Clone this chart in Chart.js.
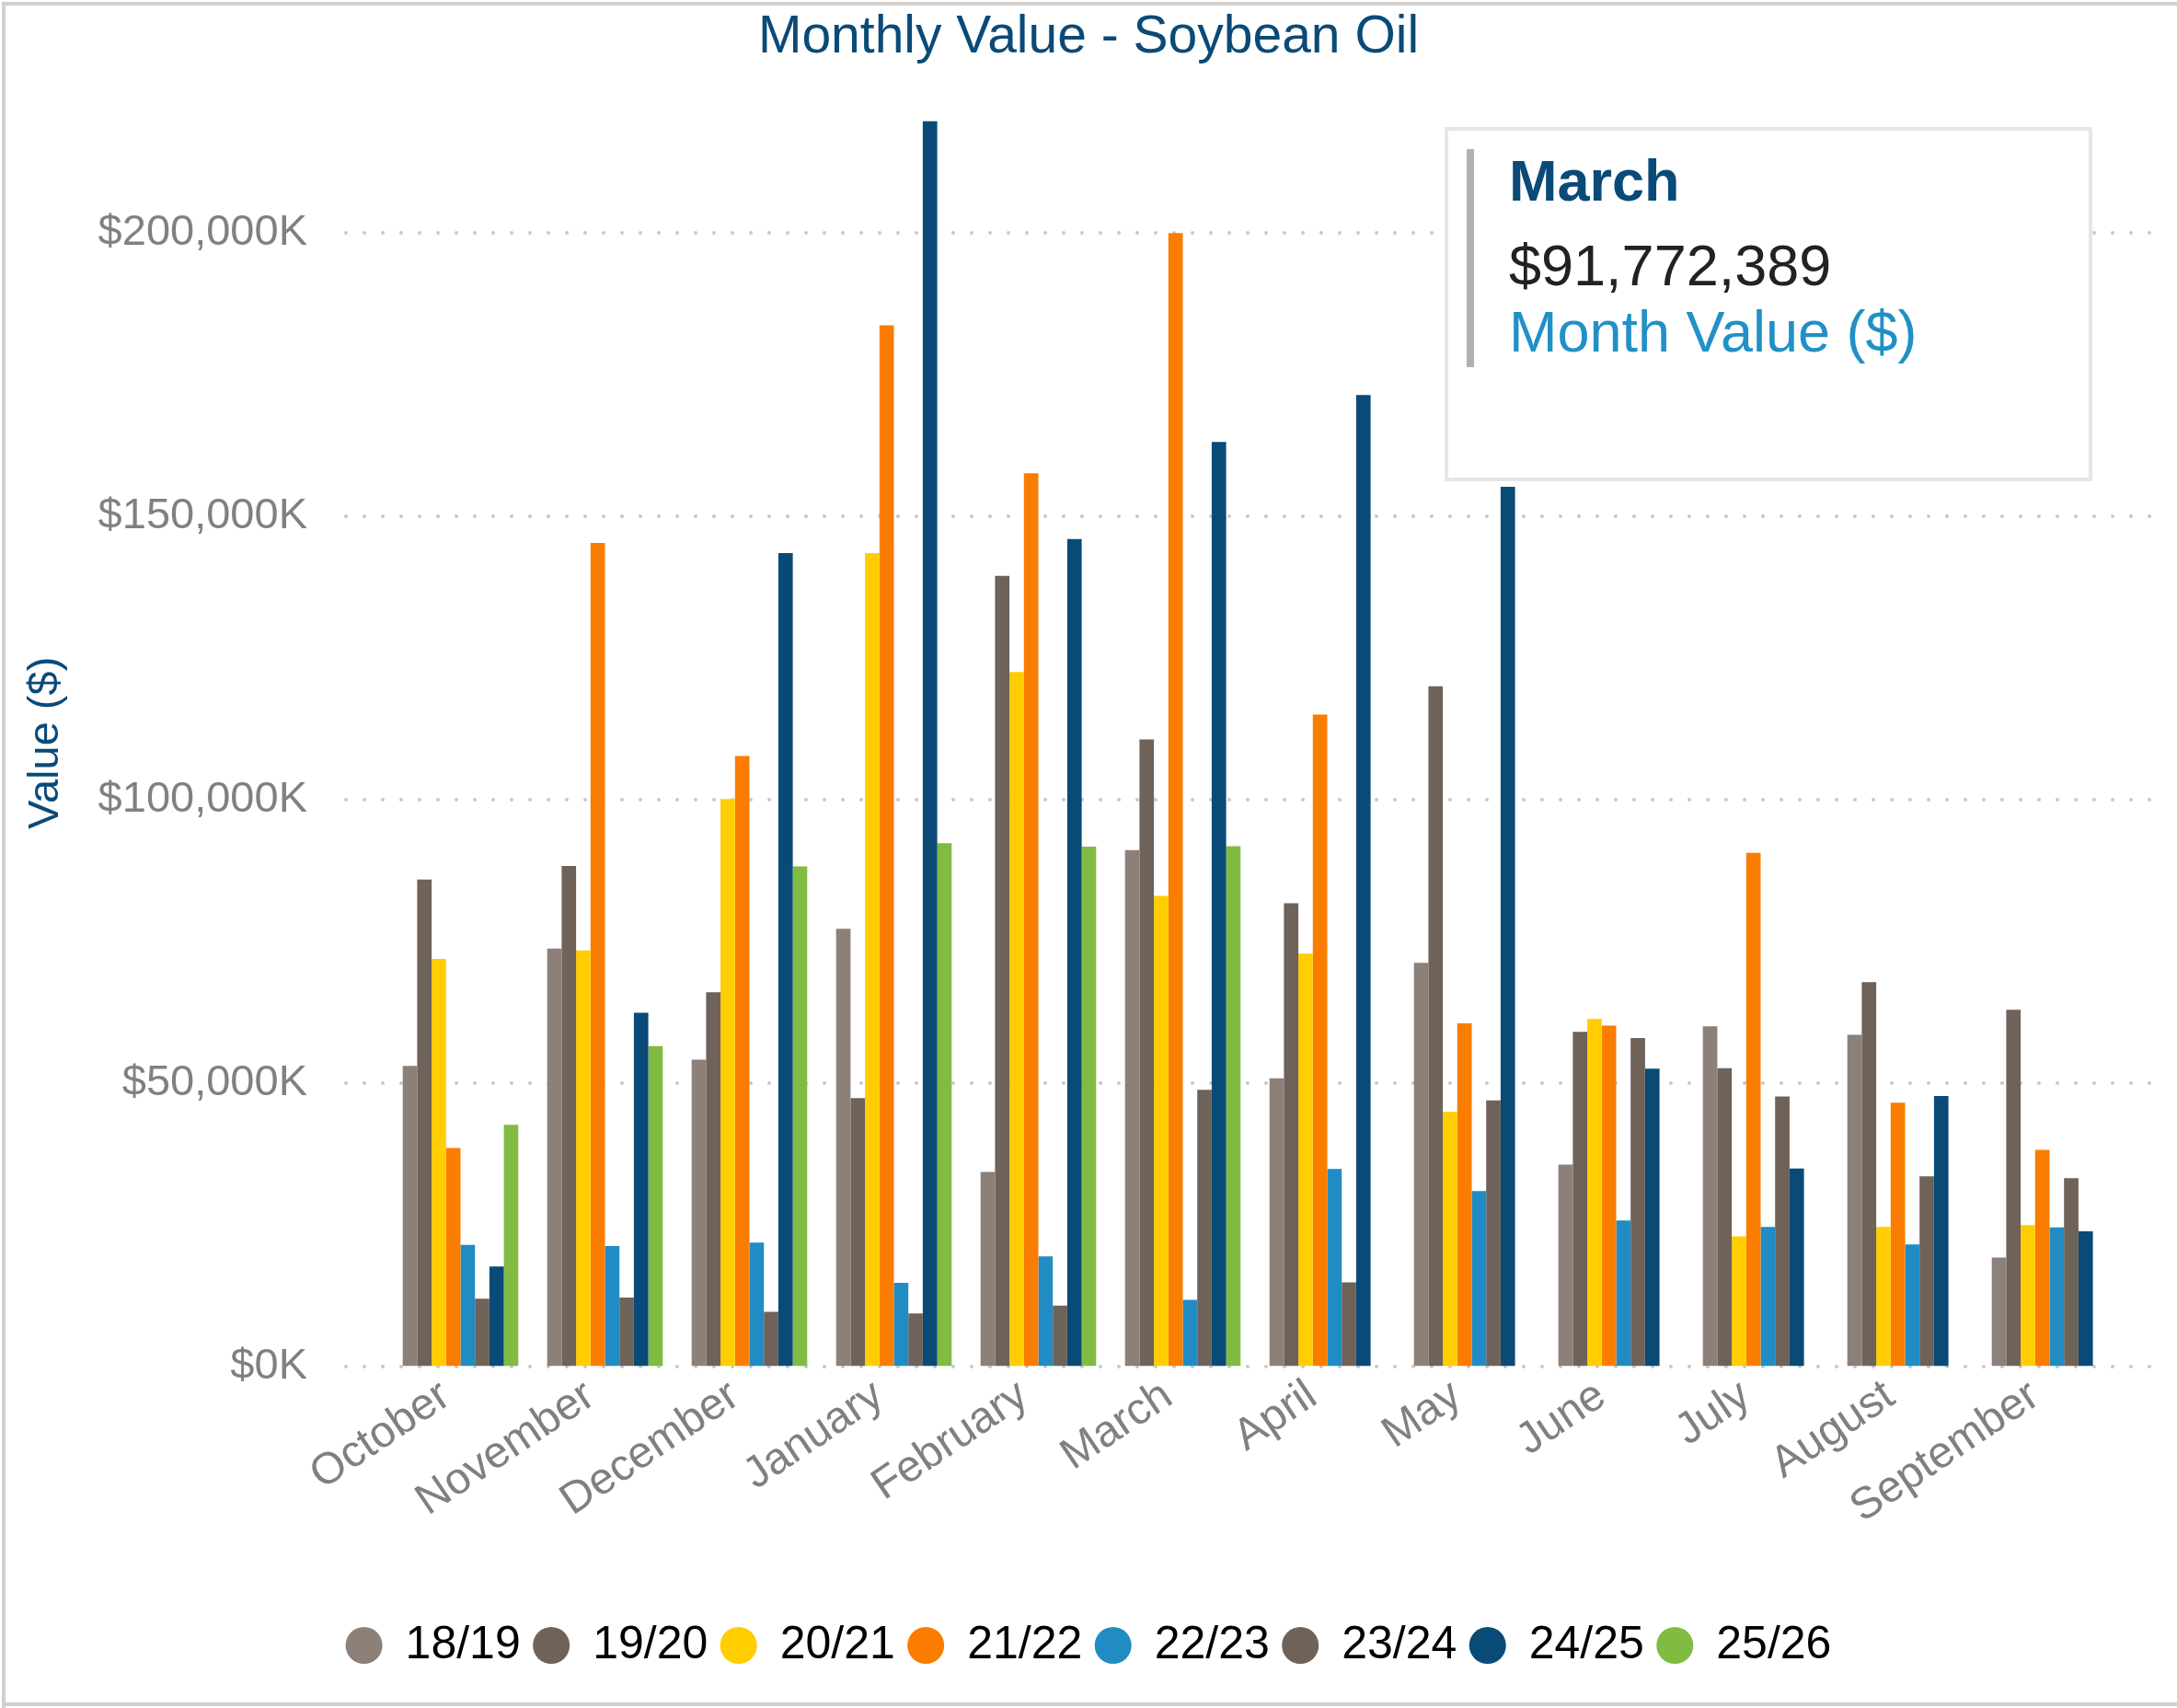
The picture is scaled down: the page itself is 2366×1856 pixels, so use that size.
<!DOCTYPE html>
<html lang="en">
<head>
    <meta charset="UTF-8">
    <title>Monthly Value - Soybean Oil</title>
    <script src="https://cdn.jsdelivr.net/npm/chart.js"></script>
    <style>
        body { margin: 0; background: #fff; }
        #wrap { position: relative; width: 2366px; height: 1856px; }
        #chart { display: block; }
        #tip {
            position: absolute; left: 1570px; top: 138px; width: 704px; height: 385px;
            box-sizing: border-box; border: 4px solid #e6e6e6; background: #fff;
            font-family: "Liberation Sans", Arial, sans-serif; opacity: 0;
        }
        #tip .bar { position: absolute; left: 20px; top: 20px; width: 8px; height: 237px; background: #b4afab; }
        #tip .line { position: absolute; left: 66px; font-size: 63px; line-height: 63px; white-space: nowrap; }
        #tip .title { top: 23px; font-weight: bold; color: #0a4a78; }
        #tip .value { top: 115px; color: #222; }
        #tip .series { top: 187px; color: #2190c6; }
    </style>
</head>
<body>
    <div id="wrap">
        <canvas id="chart" width="2366" height="1856"></canvas>
        <div id="tip"></div>
    </div>
    <script>
        // values in $ thousands
        const months = ['October', 'November', 'December', 'January', 'February', 'March',
                        'April', 'May', 'June', 'July', 'August', 'September'];
        const seasons = ['18/19', '19/20', '20/21', '21/22', '22/23', '23/24', '24/25', '25/26'];
        const colors = ['#8c8079', '#6e6259', '#ffcd00', '#fa7d00', '#218cc3', '#6e6259', '#0a4a77', '#80bc42'];

        const v1819 = [53000, 73700, 54100, 77200, 34300, 91100, 50800, 71200, 35600, 60000, 58500, 19200];
        const v1920 = [85900, 88300, 66000, 47300, 139500, 110600, 81700, 120000, 59000, 52600, 67800, 62900];
        const v2021 = [71900, 73400, 100100, 143500, 122500, 83000, 72800, 44900, 61300, 22900, 24600, 24900];
        const v2122 = [38500, 145300, 107700, 183700, 157600, 200000, 115000, 60500, 60100, 90600, 46500, 38200];
        const v2223 = [21400, 21200, 21800, 14700, 19400, 11700, 34800, 30900, 25700, 24600, 21500, 24500];
        const v2324 = [11900, 12100, 9600, 9300, 10700, 48800, 14800, 46900, 57900, 47600, 33500, 33200];
        const v2425 = [17600, 62400, 143500, 219700, 146000, 163100, 171400, 155200, 52500, 34900, 47700, 23800];
        const v2526 = [42600, 56500, 88200, 92300, 91700, 91772.389, null, null, null, null, null, null];
        const seriesValues = [v1819, v1920, v2021, v2122, v2223, v2324, v2425, v2526];

        const yTicks = [0, 50000, 100000, 150000, 200000];
        const yMax = 220000;

        const FONT = '"Liberation Sans", Arial, sans-serif';
        const NAVY = '#0a4a78';

        // dotted horizontal grid, a bit wider than the bar area like the original
        const dottedGrid = {
            id: 'dottedGrid',
            beforeDatasetsDraw(chart) {
                const { ctx, chartArea, scales: { y } } = chart;
                ctx.save();
                ctx.strokeStyle = '#c8c8c8';
                ctx.lineWidth = 4;
                ctx.lineCap = 'round';
                ctx.setLineDash([0, 20]);
                y.ticks.forEach(t => {
                    const py = Math.round(y.getPixelForValue(t.value));
                    ctx.beginPath();
                    ctx.moveTo(chartArea.left - 46, py);
                    ctx.lineTo(chartArea.right + 32, py);
                    ctx.stroke();
                });
                ctx.restore();
            }
        };

        // thin grey frame on the top, left and bottom edges
        const frame = {
            id: 'frame',
            afterDraw(chart) {
                const { ctx, width, height } = chart;
                ctx.save();
                ctx.fillStyle = '#d0d0d0';
                ctx.fillRect(2, 2, width, 4);
                ctx.fillRect(2, 2, 4, height);
                ctx.fillRect(2, height - 6, width, 4);
                ctx.restore();
            }
        };

        function externalTip(context) {
            const tip = context.tooltip;
            const el = document.getElementById('tip');
            if (tip.opacity === 0 || !tip.body) { el.style.opacity = 0; return; }
            const body = tip.body[0];
            el.innerHTML =
                '<div class="bar"></div>' +
                '<div class="line title">' + tip.title[0] + '</div>' +
                '<div class="line value">' + body.lines[0] + '</div>' +
                '<div class="line series">' + body.after[0] + '</div>';
            el.style.opacity = 1;
        }

        const chart = new Chart(document.getElementById('chart'), {
            type: 'bar',
            data: {
                labels: months,
                datasets: seasons.map((s, i) => ({
                    label: s,
                    data: seriesValues[i],
                    backgroundColor: colors[i],
                    borderWidth: 0,
                    categoryPercentage: 0.8,
                    barPercentage: 1.0
                }))
            },
            options: {
                responsive: false,
                devicePixelRatio: 1,
                animation: false,
                events: [],
                layout: { padding: { left: 60, right: 60, top: 0, bottom: 33 } },
                scales: {
                    x: {
                        grid: { display: false, drawTicks: false },
                        border: { display: false },
                        ticks: {
                            color: '#808080',
                            font: { family: FONT, size: 48 },
                            minRotation: 34,
                            maxRotation: 34,
                            autoSkip: false,
                            padding: 4,
                            labelOffset: -16
                        },
                        afterFit(scale) { scale.height = 265; }
                    },
                    y: {
                        min: 0,
                        max: yMax,
                        grid: { display: false, drawTicks: false },
                        border: { display: false },
                        ticks: {
                            stepSize: 50000,
                            color: '#808080',
                            padding: 88,
                            font: { family: FONT, size: 47 },
                            callback: v => '$' + v.toLocaleString('en-US') + 'K'
                        },
                        afterBuildTicks(scale) {
                            scale.ticks = yTicks.map(v => ({ value: v }));
                        },
                        afterFit(scale) { scale.width = 362; },
                        title: {
                            display: true,
                            text: 'Value ($)',
                            color: NAVY,
                            font: { family: FONT, size: 47 },
                            padding: { top: -38, bottom: 0 }
                        }
                    }
                },
                plugins: {
                    title: {
                        display: true,
                        text: 'Monthly Value - Soybean Oil',
                        color: NAVY,
                        font: { family: FONT, size: 57, weight: 'normal' },
                        padding: { top: 7, bottom: 54.6 }
                    },
                    legend: {
                        position: 'bottom',
                        labels: {
                            usePointStyle: true,
                            pointStyle: 'circle',
                            pointStyleWidth: 40,
                            boxHeight: 28.3,
                            padding: 13.4,
                            color: '#000',
                            font: { family: FONT, size: 50 }
                        }
                    },
                    tooltip: {
                        enabled: false,
                        external: externalTip,
                        callbacks: {
                            label: ctx => '$' + Math.round(ctx.parsed.y * 1000).toLocaleString('en-US'),
                            afterLabel: () => 'Month Value ($)'
                        }
                    }
                }
            },
            plugins: [dottedGrid, frame]
        });

        // the reference shows the hover box for March 25/26
        chart.tooltip.setActiveElements([{ datasetIndex: 7, index: 5 }], { x: 0, y: 0 });
        chart.update();
    </script>
</body>
</html>
